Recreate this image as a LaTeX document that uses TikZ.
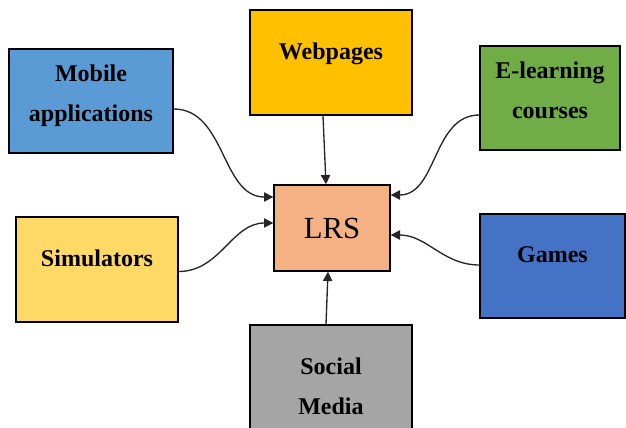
\documentclass[tikz,border=0pt]{standalone}
\usepackage{fontspec}
\setmainfont{Liberation Serif}
\usetikzlibrary{arrows.meta,calc}

\definecolor{mobileblue}{HTML}{5B9BD5}
\definecolor{webgold}{HTML}{FFC000}
\definecolor{elearngreen}{HTML}{70AD47}
\definecolor{lrsorange}{HTML}{F4B183}
\definecolor{simyellow}{HTML}{FFD966}
\definecolor{gamesblue}{HTML}{4472C4}
\definecolor{socialgray}{HTML}{A5A5A5}

% one line label, baseline a bit above the centre
\newcommand{\oneline}[1]{\raisebox{2.5pt}[0pt][0pt]{#1}}
% extra depth under the second line of a two line label
\newcommand{\lowline}{\rule[-11pt]{0pt}{11pt}}

\tikzset{every picture/.style={line width=0.75pt}}
\tikzset{
  srcbox/.style={draw=black, line width=1pt, rectangle, align=center, inner sep=2pt,
    minimum width=121.5pt, minimum height=78.75pt,
    font=\bfseries\fontsize{18}{30}\selectfont},
  lrsbox/.style={draw=black, line width=1pt, rectangle, fill=lrsorange,
    minimum width=87pt, minimum height=64.5pt, font=\fontsize{23}{28}\selectfont},
  feed/.style={draw=black!85, line width=1pt, -{Triangle[length=7pt,width=7pt]}}
}

\begin{document}
\begin{tikzpicture}[x=0.75pt,y=0.75pt,yscale=-1,xscale=1]
	\useasboundingbox (0,0) rectangle (626,428);
	\clip (0,0) rectangle (626,428);

	%Shape: Rectangle [LRS]
	\node [lrsbox] (lrs) at (332,228) {LRS};
	%Shape: Rectangle [sources]
	\node [srcbox, fill=mobileblue, minimum width=123pt, minimum height=78pt] (mobile) at (91,101) {Mobile\\applications\lowline};
	\node [srcbox, fill=webgold] (webpages) at (331,62.5) {\oneline{Webpages}};
	\node [srcbox, fill=elearngreen, minimum width=105pt, minimum height=78pt] (elearning) at (550,98) {E-learning\\courses\lowline};
	\node [srcbox, fill=simyellow] (simulators) at (97,269.5) {\oneline{Simulators}};
	\node [srcbox, fill=gamesblue, minimum width=108.75pt, minimum height=78pt] (games) at (552.5,266) {\oneline{Games}};
	\node [srcbox, fill=socialgray, minimum height=103.5pt] (social) at (331,394) {Social\\Media\lowline};

	%Curve Lines
	\draw [feed] ($(mobile.east)+(0,8)$) to[out=0,in=180] ($(lrs.west)+(0,-31)$);
	\draw [feed] ($(simulators.east)+(0,2)$) to[out=0,in=180] ($(lrs.west)+(0,-5)$);
	\draw [feed] ($(elearning.west)+(0,17)$) to[out=180,in=0] ($(lrs.east)+(0,-33)$);
	\draw [feed] ($(games.west)+(0,-1)$) to[out=180,in=0] ($(lrs.east)+(0,7)$);
	%Straight Lines
	\draw [feed] ($(webpages.south)+(-8,0)$) -- ($(lrs.north)+(-6,0)$);
	\draw [feed] ($(social.north)+(-5,0)$) -- ($(lrs.south)+(-4,0)$);

\end{tikzpicture}
\end{document}
